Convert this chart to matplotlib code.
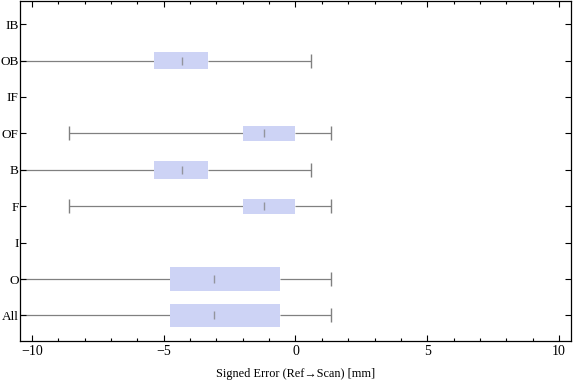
import numpy as np
import matplotlib.pyplot as plt
from matplotlib.ticker import MultipleLocator

# categories from bottom to top
cats = ['All', 'O', 'I', 'F', 'B', 'OF', 'IF', 'OB', 'IB']
# whisker low, q1, median, q3, whisker high (None = no data)
lo  = [-12.0, -12.0, None, -8.58, -12.0, -8.58, None, -12.0, None]
q1  = [-4.77, -4.77, None, -2.00, -5.38, -2.00, None, -5.38, None]
med = [-3.08, -3.08, None, -1.20, -4.30, -1.20, None, -4.30, None]
q3  = [-0.58, -0.58, None, 0.00, -3.33, 0.00, None, -3.33, None]
hi  = [1.33, 1.33, None, 1.34, 0.59, 1.34, None, 0.59, None]
# box thickness (scaled by sample size in the original)
thick = [0.65, 0.65, 0, 0.41, 0.49, 0.41, 0, 0.49, 0]

plt.rcParams['font.family'] = ['Liberation Serif', 'DejaVu Serif']

fig = plt.figure(figsize=(5.76, 3.81), dpi=100)
ax = fig.add_axes([0.0347, 0.105, 0.9566, 0.892])

boxcol = '#CDD3F5'
gray = '#808080'
for i in range(len(cats)):
    if q1[i] is None:
        continue
    y = i + 1
    ax.barh(y, q3[i] - q1[i], left=q1[i], height=thick[i], color=boxcol,
            edgecolor='none', zorder=2)
    ax.hlines(y, lo[i], q1[i], color=gray, lw=0.9, zorder=1)
    ax.hlines(y, q3[i], hi[i], color=gray, lw=0.9, zorder=1)
    ax.plot([lo[i], hi[i]], [y, y], ls='none', marker='|', ms=10, mew=1.0,
            color=gray, zorder=3)
    ax.plot(med[i], y, marker='|', ms=6, mew=1.0, color=gray, alpha=0.75,
            zorder=3)

ax.set_xlim(-10.45, 10.45)
ax.set_ylim(0.3, 9.63)
ax.set_yticks(np.arange(1, len(cats) + 1))
ax.set_yticklabels(cats)
ax.set_xticks([-10, -5, 0, 5, 10])
ax.set_xticklabels(['\u221210', '\u22125', '0', '5', '10'])
ax.xaxis.set_minor_locator(MultipleLocator(1))
ax.tick_params(axis='both', which='major', direction='in', length=4,
               width=0.8, labelsize=10, pad=3)
ax.tick_params(axis='x', which='minor', direction='in', length=2.5,
               width=0.8, top=True)
ax.tick_params(axis='x', which='major', top=True)
ax.tick_params(axis='y', which='major', right=True, pad=1, labelsize=9.5)
for s in ax.spines.values():
    s.set_linewidth(0.9)
ax.set_xlabel('Signed Error (Ref\u2192Scan) [mm]', fontsize=8.8, labelpad=7)

fig.savefig('out.png', dpi=100)
